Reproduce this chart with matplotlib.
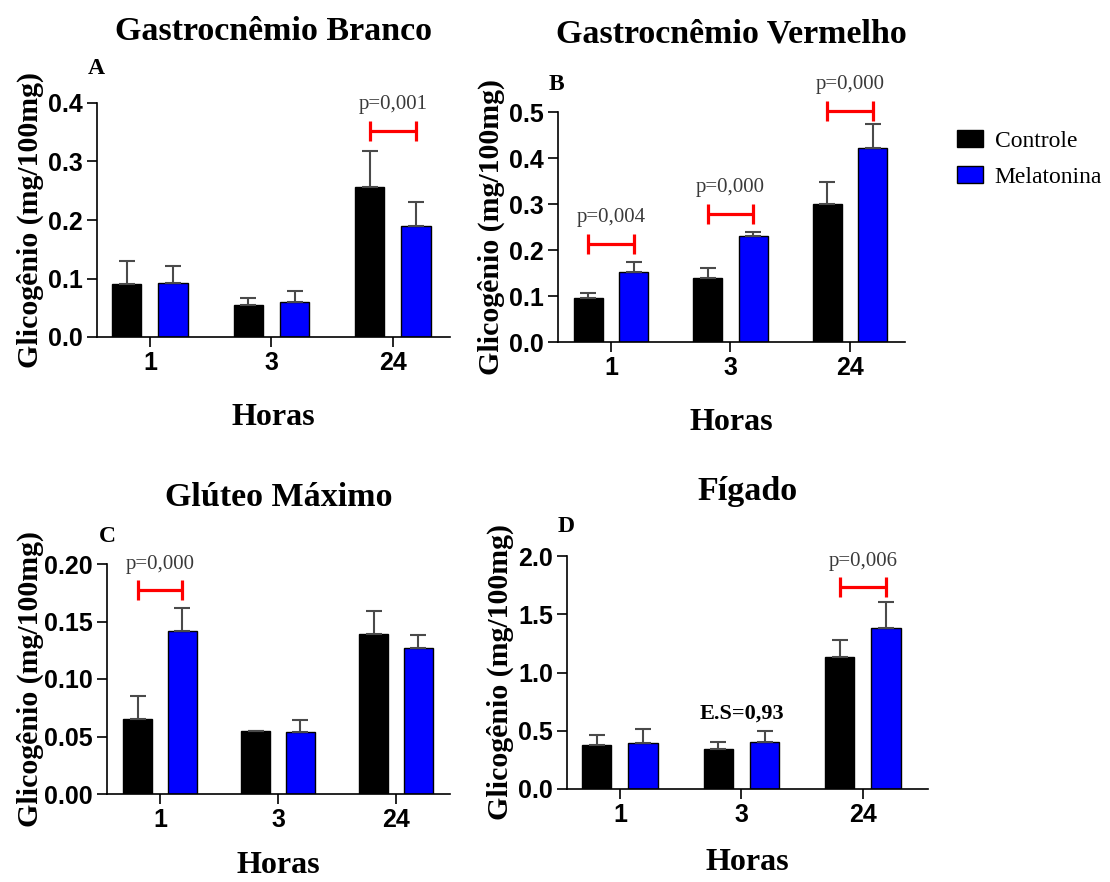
import matplotlib
matplotlib.use("Agg")
import matplotlib.pyplot as plt
import numpy as np

# ---------- data ----------
HOURS = ["1", "3", "24"]
GROUPS = ["Controle", "Melatonina"]

# A - Gastrocnêmio Branco
branco_ctrl = [0.090, 0.055, 0.257]
branco_ctrl_sem = [0.040, 0.012, 0.061]
branco_mel = [0.093, 0.060, 0.190]
branco_mel_sem = [0.029, 0.019, 0.040]
branco_sig = [(2, 0.352, "p=0,001")]

# B - Gastrocnêmio Vermelho
vermelho_ctrl = [0.095, 0.139, 0.300]
vermelho_ctrl_sem = [0.011, 0.022, 0.048]
vermelho_mel = [0.153, 0.231, 0.422]
vermelho_mel_sem = [0.021, 0.008, 0.051]
vermelho_sig = [(0, 0.213, "p=0,004"), (1, 0.278, "p=0,000"), (2, 0.502, "p=0,000")]

# C - Glúteo Máximo
gluteo_ctrl = [0.065, 0.055, 0.139]
gluteo_ctrl_sem = [0.020, 0.000, 0.020]
gluteo_mel = [0.142, 0.054, 0.127]
gluteo_mel_sem = [0.020, 0.010, 0.011]
gluteo_sig = [(0, 0.177, "p=0,000")]

# D - Fígado
figado_ctrl = [0.38, 0.34, 1.13]
figado_ctrl_sem = [0.08, 0.06, 0.15]
figado_mel = [0.395, 0.405, 1.38]
figado_mel_sem = [0.12, 0.09, 0.225]
figado_sig = [(2, 1.73, "p=0,006")]
figado_note = (1, 0.65, "E.S=0,93")

# ---------- style ----------
SERIF = "Liberation Serif"
SANS = "Liberation Sans"
BLUE = "#0000ff"
ERR_GRAY = "#4a4a4a"
BAR_W = 0.24
OFF = 0.19

W, H = 1110, 882
fig = plt.figure(figsize=(W / 100, H / 100), dpi=100)


def px_axes(left, right, top, bottom):
    return fig.add_axes([left / W, 1 - bottom / H, (right - left) / W, (bottom - top) / H])


panels = [
    dict(box=(97, 450, 103, 337), xlim=(-0.436, 2.47), title="Gastrocnêmio Branco", tpad=45,
         letter="A", lpos=(96, 69), yticks=np.arange(0, 0.41, 0.1), fmt="{:.1f}", ypad=3, xpad=20,
         ctrl=branco_ctrl, ctrl_sem=branco_ctrl_sem, mel=branco_mel, mel_sem=branco_mel_sem,
         sig=branco_sig),
    dict(box=(558, 905, 112, 342), xlim=(-0.443, 2.46), title="Gastrocnêmio Vermelho", tpad=50,
         letter="B", lpos=(556, 85), yticks=np.arange(0, 0.51, 0.1), fmt="{:.1f}", ypad=3, xpad=20,
         ctrl=vermelho_ctrl, ctrl_sem=vermelho_ctrl_sem, mel=vermelho_mel, mel_sem=vermelho_mel_sem,
         sig=vermelho_sig),
    dict(box=(107, 450, 564, 794), xlim=(-0.449, 2.457), title="Glúteo Máximo", tpad=42,
         letter="C", lpos=(107, 537), yticks=np.arange(0, 0.201, 0.05), fmt="{:.2f}", ypad=0, xpad=14,
         ctrl=gluteo_ctrl, ctrl_sem=gluteo_ctrl_sem, mel=gluteo_mel, mel_sem=gluteo_mel_sem,
         sig=gluteo_sig),
    dict(box=(567, 928, 556, 789), xlim=(-0.436, 2.535), title="Fígado", tpad=40,
         letter="D", lpos=(566, 526), yticks=np.arange(0, 2.01, 0.5), fmt="{:.1f}", ypad=3, xpad=15,
         ctrl=figado_ctrl, ctrl_sem=figado_ctrl_sem, mel=figado_mel, mel_sem=figado_mel_sem,
         sig=figado_sig),
]

handles = None
for p in panels:
    ax = px_axes(*p["box"])
    x = np.arange(len(HOURS))
    b1 = ax.bar(x - OFF, p["ctrl"], BAR_W, color="black", edgecolor="black", linewidth=1.0, zorder=2)
    b2 = ax.bar(x + OFF, p["mel"], BAR_W, color=BLUE, edgecolor="black", linewidth=1.0, zorder=2)
    ax.errorbar(x - OFF, p["ctrl"], yerr=[np.zeros(3), p["ctrl_sem"]], fmt="none",
                ecolor=ERR_GRAY, elinewidth=1.5, capsize=6, capthick=1.5, zorder=3)
    ax.errorbar(x + OFF, p["mel"], yerr=[np.zeros(3), p["mel_sem"]], fmt="none",
                ecolor=ERR_GRAY, elinewidth=1.5, capsize=6, capthick=1.5, zorder=3)
    if handles is None:
        handles = [b1, b2]

    # significance brackets between the two bars of a group
    for gi, h, txt in p["sig"]:
        ax.errorbar(gi, h, xerr=OFF, fmt="none", ecolor="red", elinewidth=2.3,
                    capsize=7, capthick=2.3, clip_on=False, zorder=4)
        ax.annotate(txt, (gi, h), xytext=(0, 19), textcoords="offset points",
                    ha="center", va="center", fontsize=15, color="#3a3a3a",
                    family=SERIF, annotation_clip=False)

    ax.set_xlim(*p["xlim"])
    ax.set_ylim(p["yticks"][0], p["yticks"][-1])
    ax.set_xticks(x)
    ax.set_xticklabels(HOURS, fontfamily=SANS, fontweight="bold", fontsize=18)
    ax.set_yticks(p["yticks"])
    ax.set_yticklabels([p["fmt"].format(v) for v in p["yticks"]],
                       fontfamily=SANS, fontweight="bold", fontsize=18)
    for side in ("top", "right"):
        ax.spines[side].set_visible(False)
    for side in ("left", "bottom"):
        ax.spines[side].set_linewidth(1.2)
    ax.tick_params(direction="out", length=7, width=1.2, pad=3)

    ax.set_xlabel("Horas", fontfamily=SERIF, fontweight="bold", fontsize=23, labelpad=p["xpad"])
    ax.set_ylabel("Glicogênio (mg/100mg)", fontfamily=SERIF, fontweight="bold",
                  fontsize=21.5, labelpad=p["ypad"])
    ax.set_title(p["title"], fontfamily=SERIF, fontweight="bold", fontsize=24.5, pad=p["tpad"])
    fig.text(p["lpos"][0] / W, 1 - p["lpos"][1] / H, p["letter"], ha="center", va="center",
             fontfamily=SERIF, fontweight="bold", fontsize=17)

    if p["letter"] == "D":
        gi, yv, txt = figado_note
        ax.text(gi, yv, txt, ha="center", va="center", fontfamily=SERIF,
                fontweight="bold", fontsize=16)

fig.legend(handles, GROUPS, loc="upper left", bbox_to_anchor=(945 / W, 1 - 118 / H),
           frameon=False, prop={"family": SERIF, "size": 17}, borderpad=0,
           handlelength=1.1, handleheight=0.75, handletextpad=0.5, labelspacing=0.6)

fig.savefig("out.png", dpi=100, facecolor="white")
